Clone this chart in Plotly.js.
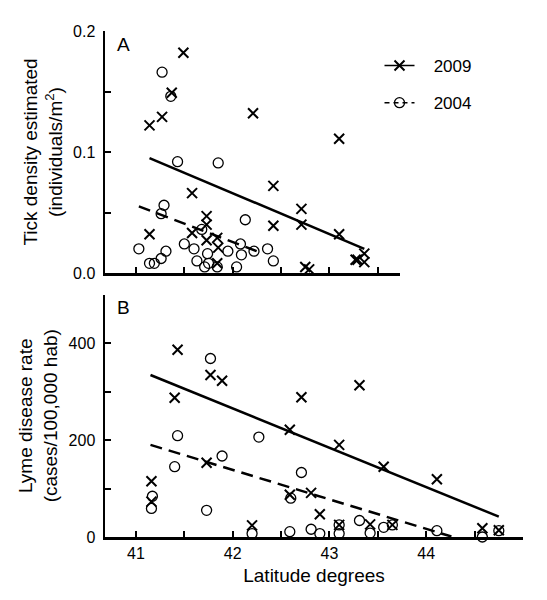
<!DOCTYPE html>
<html>
<head>
<meta charset="utf-8">
<script src="https://cdn.plot.ly/plotly-3.0.1.min.js"></script>
<style>html,body{margin:0;padding:0;background:#fff;}#chart{width:547px;height:600px;}</style>
</head>
<body>
<div id="chart"></div>
<script>
// Panel A: tick density (individuals/m2)
const lat09Tick = [41.14, 41.27, 41.37, 41.49, 42.21, 41.58, 41.14, 41.58, 41.73, 41.73, 41.73, 41.84, 41.85, 41.84, 42.42, 42.42, 42.71, 42.71, 43.10, 43.10, 42.75, 42.79, 43.27, 43.29, 43.36, 43.36];
const tick09 = [0.122, 0.129, 0.149, 0.182, 0.132, 0.066, 0.032, 0.033, 0.047, 0.040, 0.027, 0.029, 0.021, 0.008, 0.072, 0.039, 0.053, 0.040, 0.111, 0.032, 0.005, 0.003, 0.011, 0.011, 0.016, 0.009];
const lat04Tick = [41.03, 41.14, 41.19, 41.26, 41.31, 41.29, 41.26, 41.27, 41.36, 41.43, 41.85, 41.50, 41.60, 41.68, 41.63, 41.71, 41.74, 41.75, 41.84, 41.95, 42.04, 42.08, 42.09, 42.13, 42.22, 42.36, 42.42];
const tick04 = [0.020, 0.008, 0.008, 0.012, 0.018, 0.056, 0.049, 0.166, 0.146, 0.092, 0.091, 0.024, 0.020, 0.036, 0.010, 0.005, 0.016, 0.008, 0.005, 0.018, 0.005, 0.024, 0.015, 0.044, 0.018, 0.020, 0.010];
const fitLat09Tick = [41.14, 43.36];
const fitVal09Tick = [0.095, 0.020];
const fitLat04Tick = [41.03, 42.25];
const fitVal04Tick = [0.055, 0.018];

// Panel B: Lyme disease rate (cases/100,000 hab)
const lat09Lyme = [41.16, 41.16, 41.40, 41.43, 41.73, 41.77, 41.89, 42.20, 42.59, 42.59, 42.71, 42.81, 42.90, 43.10, 43.10, 43.31, 43.42, 43.56, 43.65, 44.11, 44.58, 44.75];
const lyme09 = [115, 73, 287, 386, 153, 334, 322, 24, 221, 87, 288, 91, 47, 190, 25, 313, 26, 145, 25, 119, 18, 14];
const lat04Lyme = [41.16, 41.17, 41.40, 41.43, 41.73, 41.77, 41.89, 42.20, 42.27, 42.59, 42.60, 42.71, 42.81, 42.90, 43.10, 43.10, 43.31, 43.42, 43.56, 43.65, 44.11, 44.58, 44.75];
const lyme04 = [59, 84, 145, 209, 55, 368, 167, 7, 206, 11, 80, 133, 16, 7, 7, 25, 34, 8, 20, 25, 13, 0, 13];
const fitLat09Lyme = [41.15, 44.75];
const fitVal09Lyme = [334, 42];
const fitLat04Lyme = [41.15, 44.26];
const fitVal04Lyme = [190, 1];

// Ticks and labels
const xTickVals = [41, 41.5, 42, 42.5, 43, 43.5, 44, 44.5, 45];
const xTickText = ['41', '', '42', '', '43', '', '44', '', ''];
const yTickValsA = [0, 0.05, 0.1, 0.15, 0.2];
const yTickTextA = ['0.0', '', '0.1', '', '0.2'];
const yTickValsB = [0, 100, 200, 300, 400, 500];
const yTickTextB = ['0', '', '200', '', '400', ''];
const seriesNames = ['2009', '2004'];

const FONT = 'Liberation Sans, Arial, sans-serif';
const W = 547, H = 600;
const PAD = '\u00A0\u00A0\u00A0';

const xMark = {symbol: 'x-thin-open', size: 10, color: '#000', line: {color: '#000', width: 2}};
const oMark = {symbol: 'circle-open', size: 10, color: '#000', line: {color: '#000', width: 1.3}};
const solid = {color: '#000', width: 2.5};
const dashed = {color: '#000', width: 2.5, dash: '12px,7px'};

const traces = [
  {x: lat09Tick, y: tick09, xaxis: 'x2', yaxis: 'y2', mode: 'markers', marker: xMark, showlegend: false, cliponaxis: false},
  {x: lat04Tick, y: tick04, xaxis: 'x2', yaxis: 'y2', mode: 'markers', marker: oMark, showlegend: false, cliponaxis: false},
  {x: fitLat09Tick, y: fitVal09Tick, xaxis: 'x2', yaxis: 'y2', mode: 'lines', line: solid, showlegend: false},
  {x: fitLat04Tick, y: fitVal04Tick, xaxis: 'x2', yaxis: 'y2', mode: 'lines', line: dashed, showlegend: false},
  {x: lat09Lyme, y: lyme09, xaxis: 'x', yaxis: 'y', mode: 'markers', marker: xMark, showlegend: false, cliponaxis: false},
  {x: lat04Lyme, y: lyme04, xaxis: 'x', yaxis: 'y', mode: 'markers', marker: oMark, showlegend: false, cliponaxis: false},
  {x: fitLat09Lyme, y: fitVal09Lyme, xaxis: 'x', yaxis: 'y', mode: 'lines', line: solid, showlegend: false},
  {x: fitLat04Lyme, y: fitVal04Lyme, xaxis: 'x', yaxis: 'y', mode: 'lines', line: dashed, showlegend: false},
  // legend entries
  {x: [null], y: [null], xaxis: 'x2', yaxis: 'y2', mode: 'lines+markers', name: PAD + seriesNames[0], legendgroup: 'a',
   line: {color: '#000', width: 1.5}, marker: xMark},
  {x: [null], y: [null], xaxis: 'x2', yaxis: 'y2', mode: 'lines+markers', name: PAD + seriesNames[1], legendgroup: 'b',
   line: {color: '#000', width: 1.5, dash: '5px,4px'}, marker: oMark}
];

const axisCommon = {
  showline: true, linecolor: '#000', linewidth: 2.5, mirror: false,
  ticks: 'inside', ticklen: 6, tickwidth: 2, tickcolor: '#000',
  showgrid: false, zeroline: false, fixedrange: true,
  tickfont: {family: FONT, size: 16, color: '#000'}
};

const layout = {
  width: W, height: H,
  margin: {l: 0, r: 0, t: 0, b: 0},
  paper_bgcolor: '#fff', plot_bgcolor: 'rgba(0,0,0,0)',
  font: {family: FONT, color: '#000'},
  showlegend: true,
  legend: {x: 379.5 / W, y: 1 - 48 / H, xanchor: 'left', yanchor: 'top',
    font: {family: FONT, size: 17, color: '#000'}, bgcolor: 'rgba(0,0,0,0)',
    tracegroupgap: 12, itemwidth: 30},
  xaxis: Object.assign({}, axisCommon, {
    domain: [105 / W, 523 / W], anchor: 'y', range: [40.68, 45],
    tickmode: 'array', tickvals: xTickVals, ticktext: xTickText,
    title: {text: 'Latitude degrees', font: {family: FONT, size: 19, color: '#000'}, standoff: 8}
  }),
  yaxis: Object.assign({}, axisCommon, {
    domain: [1 - 537 / H, 1 - 294.5 / H], anchor: 'x', range: [0, 500], ticklabelstandoff: 4,
    tickmode: 'array', tickvals: yTickValsB, ticktext: yTickTextB,
    title: {text: 'Lyme disease rate<br>(cases/100,000 hab)', font: {family: FONT, size: 19, color: '#000'}, standoff: 6}
  }),
  xaxis2: Object.assign({}, axisCommon, {
    domain: [105 / W, 400 / W], anchor: 'y2', range: [40.68, 43.729],
    tickmode: 'array', tickvals: xTickVals, ticktext: xTickText, showticklabels: false
  }),
  yaxis2: Object.assign({}, axisCommon, {
    domain: [1 - 273 / H, 1 - 31 / H], anchor: 'x2', range: [0, 0.2], ticklabelstandoff: 4,
    tickmode: 'array', tickvals: yTickValsA, ticktext: yTickTextA,
    title: {text: 'Tick density estimated<br>(individuals/m<sup>2</sup>)', font: {family: FONT, size: 19, color: '#000'}, standoff: 6}
  }),
  annotations: [
    {text: 'A', xref: 'paper', yref: 'paper', x: 115 / W, y: 1 - 45 / H, xanchor: 'left', yanchor: 'middle',
     showarrow: false, font: {family: FONT, size: 19, color: '#000'}},
    {text: 'B', xref: 'paper', yref: 'paper', x: 115 / W, y: 1 - 307 / H, xanchor: 'left', yanchor: 'middle',
     showarrow: false, font: {family: FONT, size: 19, color: '#000'}}
  ]
};

Plotly.newPlot('chart', traces, layout, {displayModeBar: false, staticPlot: true});
</script>
</body>
</html>
